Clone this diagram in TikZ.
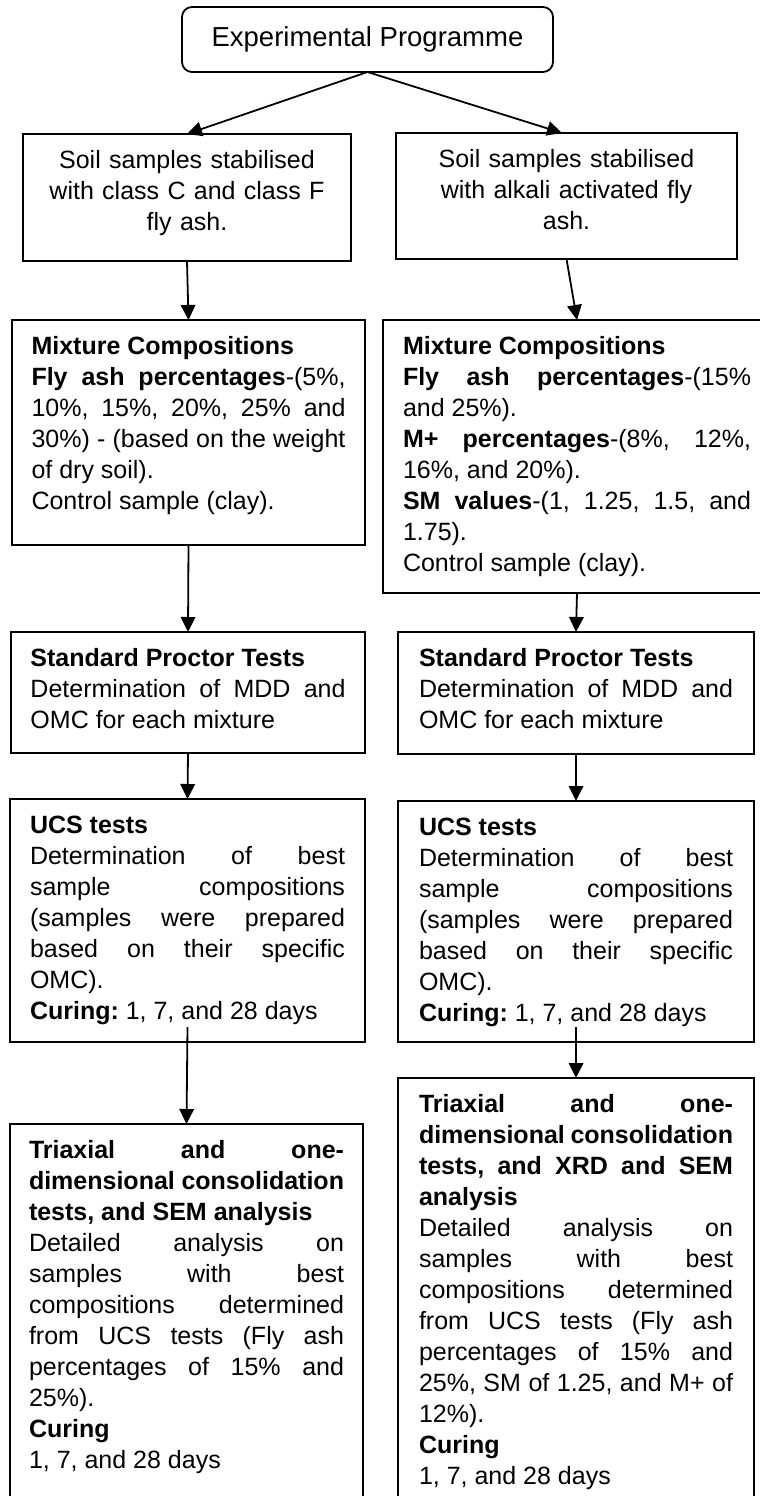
\documentclass[tikz,border=0pt]{standalone}
\usepackage{fontspec}
\setmainfont{Liberation Sans}
\usetikzlibrary{arrows.meta}
\tolerance=10000
\hbadness=10000
\frenchspacing

\begin{document}
\begin{tikzpicture}[x=1pt, y=-1pt, >={Triangle[length=15pt, width=14.5pt]},
  line width=1.8pt, font=\fontsize{25}{31}\selectfont,
  block/.style={draw, anchor=north west, outer sep=0pt, align=justify,
    inner ysep=0pt, text height=34pt}]
  \useasboundingbox (0,0) rectangle (760,1496);
  \clip (0,0) rectangle (760,1496);

  \node[draw, rounded corners=10pt, outer sep=0pt, minimum width=371pt,
    minimum height=65pt, font=\fontsize{27.5}{33}\selectfont]
    (prog) at (367.5,39.5) {Experimental Programme};

  \node[block, align=center, text width=290pt, inner xsep=19pt, text depth=93pt]
    (s1) at (23,134) {Soil samples stabilised\\ with class C and class F\\ fly ash.};
  \node[block, align=center, text width=301pt, inner xsep=20pt, text depth=92pt]
    (s2) at (396,133) {Soil samples stabilised\\ with alkali activated fly\\ ash.};

  \node[block, text width=314pt, inner xsep=19.5pt, text depth=191pt] (m1) at (12,320)
    {\textbf{Mixture Compositions}\\
     \textbf{Fly ash percentages}-(5\%,\linebreak 10\%, 15\%, 20\%, 25\% and\linebreak
     30\%) - (based on the weight\linebreak of dry soil).\\
     Control sample (clay).};
  \node[block, text width=348pt, inner xsep=20pt, text depth=239pt] (m2) at (383,320)
    {\textbf{Mixture Compositions}\\
     \textbf{Fly ash percentages}-(15\%\linebreak and 25\%).\\
     \textbf{M+ percentages}-(8\%, 12\%,\linebreak 16\%, and 20\%).\\
     \textbf{SM values}-(1, 1.25, 1.5, and\linebreak 1.75).\\
     Control sample (clay).};

  \node[block, text width=315pt, inner xsep=19.5pt, text depth=87pt] (p1) at (11,632)
    {\textbf{Standard Proctor Tests}\\ Determination of MDD and\linebreak OMC for each mixture};
  \node[block, text width=314pt, inner xsep=21pt, text depth=88pt] (p2) at (398,632)
    {\textbf{Standard Proctor Tests}\\ Determination of MDD and\linebreak OMC for each mixture};

  \node[block, text width=315pt, inner xsep=20pt, text depth=209pt] (u1) at (10,799)
    {\textbf{UCS tests}\\ Determination of best\linebreak sample compositions\linebreak
     (samples were prepared\linebreak based on their specific\linebreak OMC).\\
     \textbf{Curing:} 1, 7, and 28 days};
  \node[block, text width=314pt, inner xsep=21pt, text depth=207pt] (u2) at (398,801)
    {\textbf{UCS tests}\\ Determination of best\linebreak sample compositions\linebreak
     (samples were prepared\linebreak based on their specific\linebreak OMC).\\
     \textbf{Curing:} 1, 7, and 28 days};

  \node[block, text width=315pt, inner xsep=19pt, text depth=362pt] (t1) at (10,1124)
    {\textbf{Triaxial and one-\linebreak dimensional consolidation\linebreak
     tests, and SEM analysis}\\
     Detailed analysis on\linebreak samples with best\linebreak
     compositions determined\linebreak from UCS tests (Fly ash\linebreak
     percentages of 15\% and\linebreak 25\%).\\
     \textbf{Curing}\\ 1, 7, and 28 days};
  \node[block, text width=314pt, inner xsep=21pt, text depth=408pt] (t2) at (398,1078)
    {\textbf{Triaxial and one-\linebreak dimensional consolidation\linebreak
     tests, and XRD and SEM\linebreak analysis}\\
     Detailed analysis on\linebreak samples with best\linebreak
     compositions determined\linebreak from UCS tests (Fly ash\linebreak
     percentages of 15\% and\linebreak 25\%, SM of 1.25, and M+ of\linebreak 12\%).\\
     \textbf{Curing}\\ 1, 7, and 28 days};

  \draw[->] (prog.south) -- (s1.north);
  \draw[->] (prog.south) -- ([xshift=-4.5pt]s2.north);
  \foreach \a/\b in {s1/m1, s2/m2, m1/p1, m2/p2, p1/u1, p2/u2}
    \draw[->] (\a.south) -- (\b.north);
  \foreach \a/\b in {u1/t1, u2/t2}
    \draw[->] ([yshift=15pt]\a.south) -- (\b.north);
\end{tikzpicture}
\end{document}
